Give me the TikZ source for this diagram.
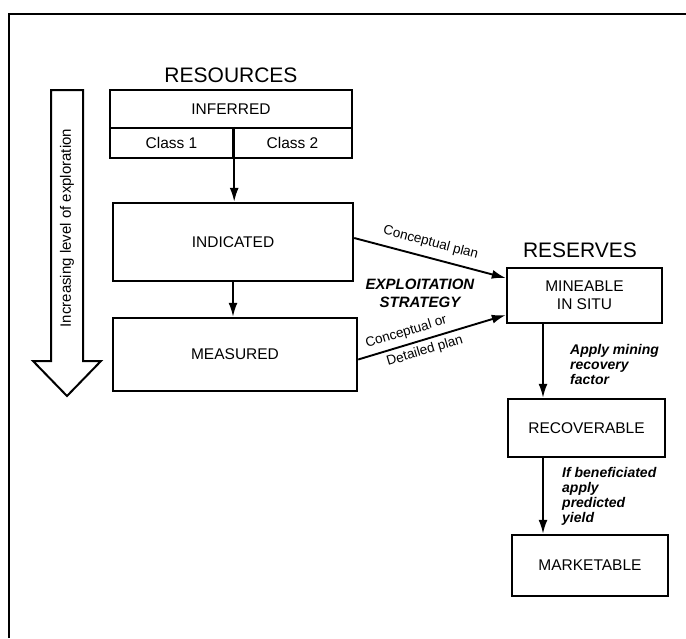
\documentclass[tikz,border=0pt]{standalone}
\usepackage{fontspec}
\setmainfont{Liberation Sans}
\usetikzlibrary{arrows.meta}

\begin{document}
\begin{tikzpicture}[x=1pt, y=-1pt,
    box/.style = {draw, line width=2.4pt, inner sep=0pt, align=center,
      font=\fontsize{15.5}{18}\selectfont},
    heading/.style = {font=\fontsize{21}{24}\selectfont},
    note/.style = {align=left, inner sep=0pt,
      font=\fontsize{14}{15}\selectfont\bfseries\itshape},
    plan/.style = {sloped, inner sep=0.5pt, font=\fontsize{13.5}{15}\selectfont},
    arr/.style = {line width=1.9pt, -{Latex[length=14pt,width=9pt]}}]
    \useasboundingbox (0,0) rectangle (686,638);
    \draw[line width=2pt] (9,638) -- (9,14) -- (686,14);

    % resources side
    \node[heading] (resources) at (231,75) {RESOURCES};
    \node[box, minimum width=242pt, minimum height=38pt] (inferred) at (231,109) {INFERRED};
    \node[box, minimum width=123pt, minimum height=30pt] (class1) at (171.5,143) {Class 1};
    \node[box, minimum width=119pt, minimum height=30pt] (class2) at (292.5,143) {Class 2};
    \node[box, minimum width=240pt, minimum height=78pt] (indicated) at (233,242) {INDICATED};
    \node[box, minimum width=244pt, minimum height=73pt] (measured) at (235,354.5) {MEASURED};
    \draw[arr] (class1.north east) -- (class1.north east |- indicated.north);
    \draw[arr] (indicated.south) -- (indicated.south |- measured.north);

    % exploration arrow
    \draw[line width=2pt, line join=miter] (51,90) -- (83,90) -- (83,361) -- (101,361)
      -- (67,396) -- (33,361) -- (51,361) -- cycle;
    \node[rotate=90, font=\fontsize{15}{18}\selectfont] (explore) at (67,228) {Increasing level of exploration};

    % reserves side
    \node[heading] (reserves) at (580,250) {RESERVES};
    \node[box, minimum width=155pt, minimum height=55pt] (mineable) at (584.5,295.5) {MINEABLE\\IN SITU};
    \node[box, minimum width=157pt, minimum height=58pt] (recoverable) at (586.5,428) {RECOVERABLE};
    \node[box, minimum width=156pt, minimum height=61pt] (marketable) at (590,565.5) {MARKETABLE};
    \coordinate (col) at (543,0);
    \draw[arr] (mineable.south -| col) -- (recoverable.north -| col);
    \draw[arr] (recoverable.south -| col) -- (marketable.north -| col);
    \node[note, anchor=north west] (mining) at (570,344) {Apply mining\\recovery\\factor};
    \node[note, anchor=north west] (yield) at (562,467) {If beneficiated\\apply\\predicted\\yield};

    % exploitation strategy
    \node[note, align=center, font=\fontsize{15}{18}\selectfont\bfseries\itshape] (strategy) at (420,293) {EXPLOITATION\\STRATEGY};
    \draw[arr] ([yshift=4pt]indicated.east) -- node[plan, above=7pt, pos=0.48] {Conceptual plan} ([yshift=17.5pt]mineable.west);
    \draw[arr] ([yshift=-5pt]measured.east) -- node[plan, above=4.5pt, pos=0.35] {Conceptual or}
      node[plan, below=3.5pt, pos=0.43] {Detailed plan} ([yshift=-19.5pt]mineable.west);
\end{tikzpicture}
\end{document}
